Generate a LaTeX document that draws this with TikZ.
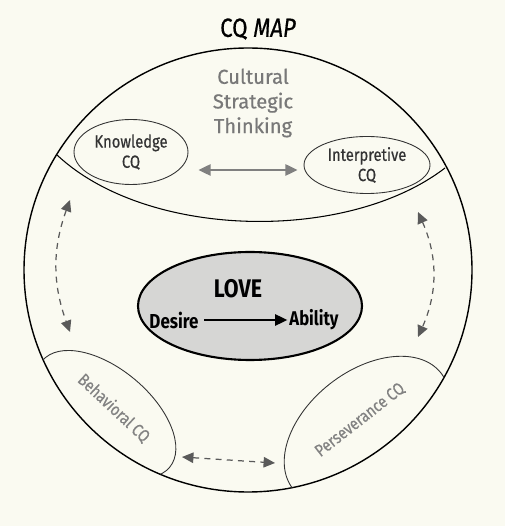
\documentclass[tikz,border=0pt]{standalone}
\usepackage{fontspec}
\setmainfont{Fira Sans}[FakeStretch=0.84]
\newfontfamily\medfont{Fira Sans}[FakeStretch=0.84, FakeBold=0.5]
\newfontfamily\widefont{Fira Sans}[FakeBold=0.5]
\usetikzlibrary{arrows.meta,shapes.geometric}
\definecolor{paper}{RGB}{250,250,241}
\definecolor{lovegray}{RGB}{214,214,212}
\definecolor{cstgray}{RGB}{120,120,120}
\definecolor{lobegray}{RGB}{130,130,130}
\definecolor{arrowgray}{RGB}{90,90,90}

\begin{document}
\begin{tikzpicture}[
  cqoval/.style={shape=ellipse, draw=black!80, line width=0.5pt, inner sep=0pt, align=center, text=black!80, font=\medfont\fontsize{10}{11.5}\selectfont},
  cqlobe/.style={draw=black!80, line width=0.5pt},
  lobetext/.style={text=lobegray, font=\medfont\fontsize{9.8}{10}\selectfont},
  swaparrow/.style={{Triangle[length=6.5pt,width=6pt]}-{Triangle[length=6.5pt,width=6pt]}, draw=arrowgray, line width=0.7pt, dash pattern=on 3.4pt off 3pt}
]
\fill[paper] (-4.96,-5.12) rectangle (5.14,5.4);
\useasboundingbox (-4.96,-5.12) rectangle (5.14,5.4);

\node (title) at (0.2,4.82) {\medfont\fontsize{15}{16}\selectfont CQ \textit{MAP}};

% outer map and the strategic-thinking cap
\draw[line width=0.8pt] (0,0) ellipse [x radius=4.48, y radius=4.44];
\draw[line width=0.6pt] (-3.82,2.3) .. controls (-2,0.6) and (2,0.55) .. (3.94,2.04);
\node[text=cstgray, align=center, font=\widefont\fontsize{11.5}{14}\selectfont] (cst) at (0.1,3.34) {Cultural\\Strategic\\Thinking};

\node[cqoval, minimum width=2.28cm, minimum height=1.3cm] (know) at (-2.34,2.36) {Knowledge\\CQ};
\node[cqoval, minimum width=2.52cm, minimum height=1.14cm] (interp) at (2.38,2.1) {Interpretive\\CQ};
\draw[{Triangle[length=7pt,width=6.5pt]}-{Triangle[length=7pt,width=6.5pt]}, draw=black!50, line width=1pt]
  ([shift={(0.2,-0.36)}]know.east) -- ([shift={(-0.12,-0.1)}]interp.west);

% bottom lobes, cut by the outer map
\begin{scope}
\clip (0,0) ellipse [x radius=4.48, y radius=4.44];
\draw[cqlobe, rotate around={-40:(-2.84,-2.88)}] (-2.84,-2.88) ellipse [x radius=1.66, y radius=0.9];
\draw[cqlobe, rotate around={38:(2.38,-3.22)}] (2.38,-3.22) ellipse [x radius=1.88, y radius=1.2];
\end{scope}
\node[lobetext, rotate=-43] (bcq) at (-2.68,-2.76) {Behavioral CQ};
\node[lobetext, rotate=38] (pcq) at (2.24,-3.0) {Perseverance CQ};

% dashed links between the four CQs
\coordinate (l1) at (-3.56,1.4);
\coordinate (l2) at (-3.56,-1.24);
\coordinate (r1) at (3.4,1.16);
\coordinate (r2) at (3.4,-1.34);
\coordinate (b1) at (-1.32,-3.74);
\coordinate (b2) at (0.54,-3.86);
\draw[swaparrow] (l1) to[bend right=20] (l2);
\draw[swaparrow] (r1) to[bend left=24] (r2);
\draw[swaparrow] (b1) -- (b2);

% love in the middle
\node[shape=ellipse, draw=black, line width=1.2pt, fill=lovegray, minimum width=4.48cm, minimum height=2.16cm] (love) at (0.04,-0.72) {};
\node[font=\bfseries\fontsize{14.5}{15}\selectfont] (lovetxt) at (-0.2,-0.38) {LOVE};
\node[font=\bfseries\fontsize{11.5}{12}\selectfont, inner sep=1pt] (desire) at (-1.48,-1.0) {Desire};
\node[font=\bfseries\fontsize{11.3}{12}\selectfont, inner sep=1pt] (ability) at (1.32,-1.0) {Ability};
\draw[line width=0.9pt, -{Triangle[length=7pt,width=6.5pt]}, shorten <=2pt] (desire) -- (ability);
\end{tikzpicture}
\end{document}
